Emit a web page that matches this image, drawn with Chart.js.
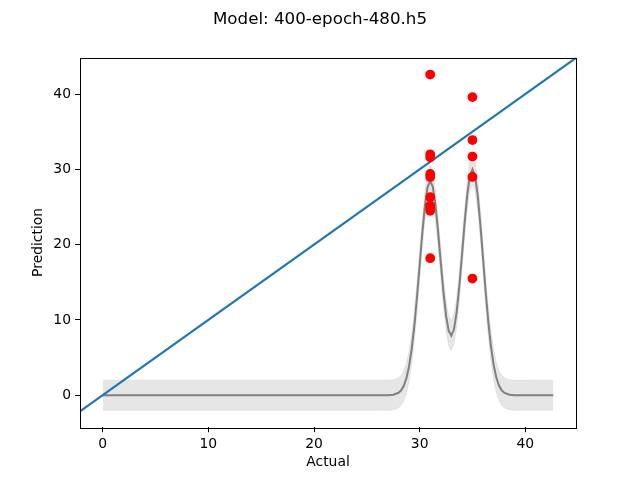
<!DOCTYPE html>
<html lang="en">
<head>
    <meta charset="UTF-8">
    <title>Model: 400-epoch-480.h5</title>
    <script src="https://cdn.jsdelivr.net/npm/chart.js"></script>
    <style>
        body { margin: 0; background: white; }
        #wrap { width: 640px; height: 480px; }
    </style>
</head>
<body>
    <div id="wrap"><canvas id="predChart" width="640" height="480"></canvas></div>
    <script>
        // model curve
        let curveX = [0, 26, 27, 27.5, 28, 28.25, 28.5, 28.75, 29, 29.25, 29.5, 29.75, 30, 30.25, 30.5, 30.75,
            31, 31.25, 31.5, 31.75, 32, 32.25, 32.5, 32.75, 33, 33.25, 33.5, 33.75, 34, 34.25, 34.5, 34.75,
            35, 35.25, 35.5, 35.75, 36, 36.25, 36.5, 36.75, 37, 37.25, 37.5, 37.75, 38, 38.5, 39, 42.65];
        let curveY = [0, 0, 0.01, 0.06, 0.32, 0.65, 1.25, 2.27, 3.86, 6.16, 9.25, 13.05, 17.29, 21.51, 25.15, 27.62,
            28.51, 27.65, 25.22, 21.66, 17.62, 13.73, 10.57, 8.55, 7.92, 8.76, 10.99, 14.38, 18.52, 22.79, 26.54, 29.11,
            30.01, 29.08, 26.48, 22.64, 18.2, 13.73, 9.74, 6.49, 4.06, 2.39, 1.32, 0.68, 0.33, 0.07, 0.01, 0];
        let bandHalf = 2;

        // actual vs predicted points
        let actual = [31, 31, 31, 31, 31, 31, 31, 31, 31, 31, 35, 35, 35, 35, 35];
        let predicted = [42.6, 32.0, 31.6, 29.4, 29.0, 26.3, 25.2, 24.8, 24.5, 18.2, 39.6, 33.9, 31.7, 29.0, 15.5];

        let xRange = [-2.15, 44.8];
        let yRange = [-4.25, 44.85];
        let xTicks = [0, 10, 20, 30, 40];
        let yTicks = [0, 10, 20, 30, 40];

        let font = { family: "'DejaVu Sans', sans-serif", size: 13.9 };

        let pts = (xs, ys) => xs.map((x, i) => ({ x: x, y: ys[i] }));

        let frame = {
            id: 'frame',
            afterDraw(chart) {
                let a = chart.chartArea, c = chart.ctx;
                c.save();
                c.strokeStyle = '#000';
                c.lineWidth = 1;
                c.strokeRect(Math.round(a.left) + 0.5, Math.round(a.top) + 0.5,
                    Math.round(a.right - a.left), Math.round(a.bottom - a.top));
                c.fillStyle = '#000';
                c.font = "16.7px 'DejaVu Sans', sans-serif";
                c.textAlign = 'center';
                c.textBaseline = 'alphabetic';
                c.fillText('Model: 400-epoch-480.h5', 320, 24);
                c.restore();
            }
        };

        let ctx = document.getElementById('predChart').getContext('2d');
        let chart = new Chart(ctx, {
            type: 'scatter',
            data: {
                datasets: [
                    {
                        data: pts(actual, predicted),
                        backgroundColor: 'red',
                        borderColor: 'red',
                        pointRadius: 4.9,
                        pointBorderWidth: 0,
                        order: 0
                    },
                    {
                        data: pts(xRange, xRange),
                        showLine: true,
                        borderColor: '#1f77b4',
                        borderWidth: 2.1,
                        pointRadius: 0,
                        order: 1
                    },
                    {
                        data: pts(curveX, curveY),
                        showLine: true,
                        borderColor: 'gray',
                        borderWidth: 2,
                        pointRadius: 0,
                        order: 2
                    },
                    {
                        data: pts(curveX, curveY.map(v => v - bandHalf)),
                        showLine: true,
                        borderColor: 'rgba(128,128,128,0.12)',
                        borderWidth: 1,
                        pointRadius: 0,
                        order: 3
                    },
                    {
                        data: pts(curveX, curveY.map(v => v + bandHalf)),
                        showLine: true,
                        borderColor: 'rgba(128,128,128,0.12)',
                        borderWidth: 1,
                        backgroundColor: 'rgba(128,128,128,0.2)',
                        fill: 3,
                        pointRadius: 0,
                        order: 4
                    }
                ]
            },
            options: {
                responsive: false,
                animation: false,
                devicePixelRatio: 1,
                layout: { padding: { top: 57.6, right: 64, left: 0, bottom: 0 } },
                plugins: { legend: { display: false }, tooltip: { enabled: false } },
                scales: {
                    x: {
                        type: 'linear',
                        min: xRange[0],
                        max: xRange[1],
                        afterFit(s) { s.height = 52.8; },
                        afterBuildTicks(s) { s.ticks = xTicks.map(v => ({ value: v })); },
                        grid: { drawOnChartArea: false, tickLength: 5, tickColor: '#000' },
                        border: { display: false },
                        ticks: { font: font, color: '#000', padding: 4, maxRotation: 0 },
                        title: { display: true, text: 'Actual', font: font, color: '#000', padding: { top: 0, bottom: 9.5 } }
                    },
                    y: {
                        type: 'linear',
                        min: yRange[0],
                        max: yRange[1],
                        afterFit(s) { s.width = 80; },
                        afterBuildTicks(s) { s.ticks = yTicks.map(v => ({ value: v })); },
                        grid: { drawOnChartArea: false, tickLength: 5, tickColor: '#000' },
                        border: { display: false },
                        ticks: { font: font, color: '#000', padding: 4 },
                        title: { display: true, text: 'Prediction', font: font, color: '#000', padding: { top: 30.5, bottom: 0 } }
                    }
                }
            },
            plugins: [frame]
        });
    </script>
</body>
</html>
